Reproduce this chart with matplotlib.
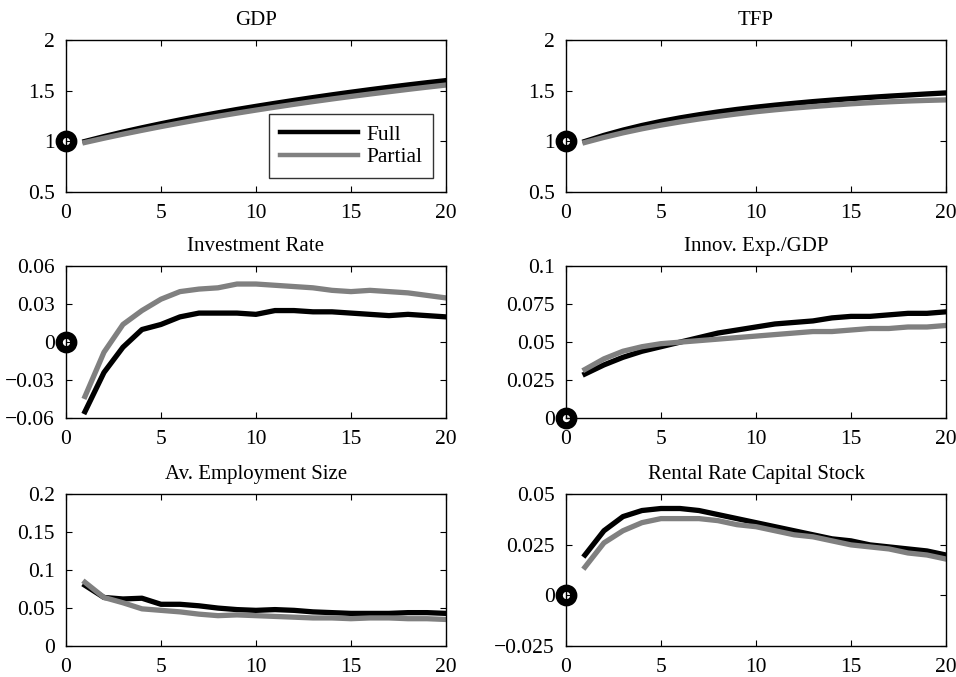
import matplotlib
matplotlib.use('Agg')
import matplotlib.pyplot as plt

plt.rcParams['font.family'] = ['Liberation Serif', 'DejaVu Serif']

periods = list(range(1, 21))

titles = ['GDP', 'TFP', 'Investment Rate', 'Innov. Exp./GDP',
          'Av. Employment Size', 'Rental Rate Capital Stock']

gdp_full = [1.00, 1.048, 1.093, 1.135, 1.175, 1.213, 1.249, 1.283, 1.316, 1.347,
            1.377, 1.406, 1.434, 1.461, 1.487, 1.512, 1.536, 1.559, 1.581, 1.602]
gdp_partial = [0.99, 1.032, 1.072, 1.110, 1.147, 1.182, 1.216, 1.249, 1.280, 1.310,
               1.339, 1.367, 1.394, 1.420, 1.445, 1.469, 1.492, 1.515, 1.537, 1.558]

tfp_full = [1.00, 1.060, 1.112, 1.158, 1.198, 1.233, 1.264, 1.292, 1.317, 1.339,
            1.359, 1.377, 1.394, 1.409, 1.423, 1.436, 1.448, 1.459, 1.470, 1.480]
tfp_partial = [0.99, 1.040, 1.085, 1.125, 1.161, 1.193, 1.222, 1.248, 1.272, 1.294,
               1.313, 1.330, 1.345, 1.359, 1.372, 1.383, 1.392, 1.400, 1.406, 1.411]

inv_full = [-0.055, -0.024, -0.004, 0.010, 0.014, 0.020, 0.023, 0.023, 0.023, 0.022,
            0.025, 0.025, 0.024, 0.024, 0.023, 0.022, 0.021, 0.022, 0.021, 0.020]
inv_partial = [-0.043, -0.008, 0.014, 0.025, 0.034, 0.040, 0.042, 0.043, 0.046, 0.046,
               0.045, 0.044, 0.043, 0.041, 0.040, 0.041, 0.040, 0.039, 0.037, 0.035]

innov_full = [0.029, 0.035, 0.040, 0.044, 0.047, 0.050, 0.053, 0.056, 0.058, 0.060,
              0.062, 0.063, 0.064, 0.066, 0.067, 0.067, 0.068, 0.069, 0.069, 0.070]
innov_partial = [0.032, 0.039, 0.044, 0.047, 0.049, 0.050, 0.051, 0.052, 0.053, 0.054,
                 0.055, 0.056, 0.057, 0.057, 0.058, 0.059, 0.059, 0.060, 0.060, 0.061]

emp_full = [0.080, 0.064, 0.062, 0.063, 0.055, 0.055, 0.053, 0.050, 0.048, 0.047,
            0.048, 0.047, 0.045, 0.044, 0.043, 0.043, 0.043, 0.044, 0.044, 0.043]
emp_partial = [0.084, 0.064, 0.057, 0.049, 0.047, 0.045, 0.042, 0.040, 0.041, 0.040,
               0.039, 0.038, 0.037, 0.037, 0.036, 0.037, 0.037, 0.036, 0.036, 0.035]

rent_full = [0.020, 0.032, 0.039, 0.042, 0.043, 0.043, 0.042, 0.040, 0.038, 0.036,
             0.034, 0.032, 0.030, 0.028, 0.027, 0.025, 0.024, 0.023, 0.022, 0.020]
rent_partial = [0.014, 0.026, 0.032, 0.036, 0.038, 0.038, 0.038, 0.037, 0.035, 0.034,
                0.032, 0.030, 0.029, 0.027, 0.025, 0.024, 0.023, 0.021, 0.020, 0.018]

# starting point (period 0) drawn as a circle; None = no marker
start_values = [1, 1, 0, 0, None, 0]

full_series = [gdp_full, tfp_full, inv_full, innov_full, emp_full, rent_full]
partial_series = [gdp_partial, tfp_partial, inv_partial, innov_partial, emp_partial, rent_partial]

y_limits = [(0.5, 2), (0.5, 2), (-0.06, 0.06), (0, 0.1), (0, 0.2), (-0.025, 0.05)]
y_ticks = [[0.5, 1, 1.5, 2], [0.5, 1, 1.5, 2],
           [-0.06, -0.03, 0, 0.03, 0.06], [0, 0.025, 0.05, 0.075, 0.1],
           [0, 0.05, 0.1, 0.15, 0.2], [-0.025, 0, 0.025, 0.05]]
y_ticklabels = [['0.5', '1', '1.5', '2'], ['0.5', '1', '1.5', '2'],
                ['\u22120.06', '\u22120.03', '0', '0.03', '0.06'],
                ['0', '0.025', '0.05', '0.075', '0.1'],
                ['0', '0.05', '0.1', '0.15', '0.2'],
                ['\u22120.025', '0', '0.025', '0.05']]

fig = plt.figure(figsize=(9.56, 6.77), dpi=100)

lefts = [0.069, 0.592]
bottoms = [0.7164, 0.3826, 0.0458]
w, h = 0.3975, 0.224

for i in range(6):
    row, col = divmod(i, 2)
    ax = fig.add_axes([lefts[col], bottoms[row], w, h])
    ax.plot(periods, full_series[i], color='black', lw=3.8, label='Full')
    ax.plot(periods, partial_series[i], color='#808080', lw=3.8, label='Partial')
    if start_values[i] is not None:
        ax.plot([0], [start_values[i]], 'o', mfc='none', mec='black', ms=10.5, mew=5.2,
                clip_on=False, zorder=5)
    ax.set_xlim(0, 20)
    ax.set_ylim(*y_limits[i])
    ax.set_xticks([0, 5, 10, 15, 20])
    ax.set_yticks(y_ticks[i])
    ax.set_yticklabels(y_ticklabels[i])
    ax.tick_params(direction='in', top=True, right=True, labelsize=15.5, length=4)
    ax.tick_params(axis='x', pad=9)
    ax.tick_params(axis='y', pad=8)
    ax.set_title(titles[i], fontsize=15, pad=11)
    for s in ax.spines.values():
        s.set_linewidth(1.0)
    if i == 0:
        leg = ax.legend(loc='lower right', bbox_to_anchor=(0.966, 0.093), fontsize=15.5,
                        frameon=True, fancybox=False, handlelength=3.6, borderpad=0.5,
                        labelspacing=0.1, handletextpad=0.4, borderaxespad=0)
        leg.get_frame().set_edgecolor('black')
        leg.get_frame().set_linewidth(1.0)
        for line in leg.get_lines():
            line.set_linewidth(3.2)

fig.savefig('out.png', dpi=100)
